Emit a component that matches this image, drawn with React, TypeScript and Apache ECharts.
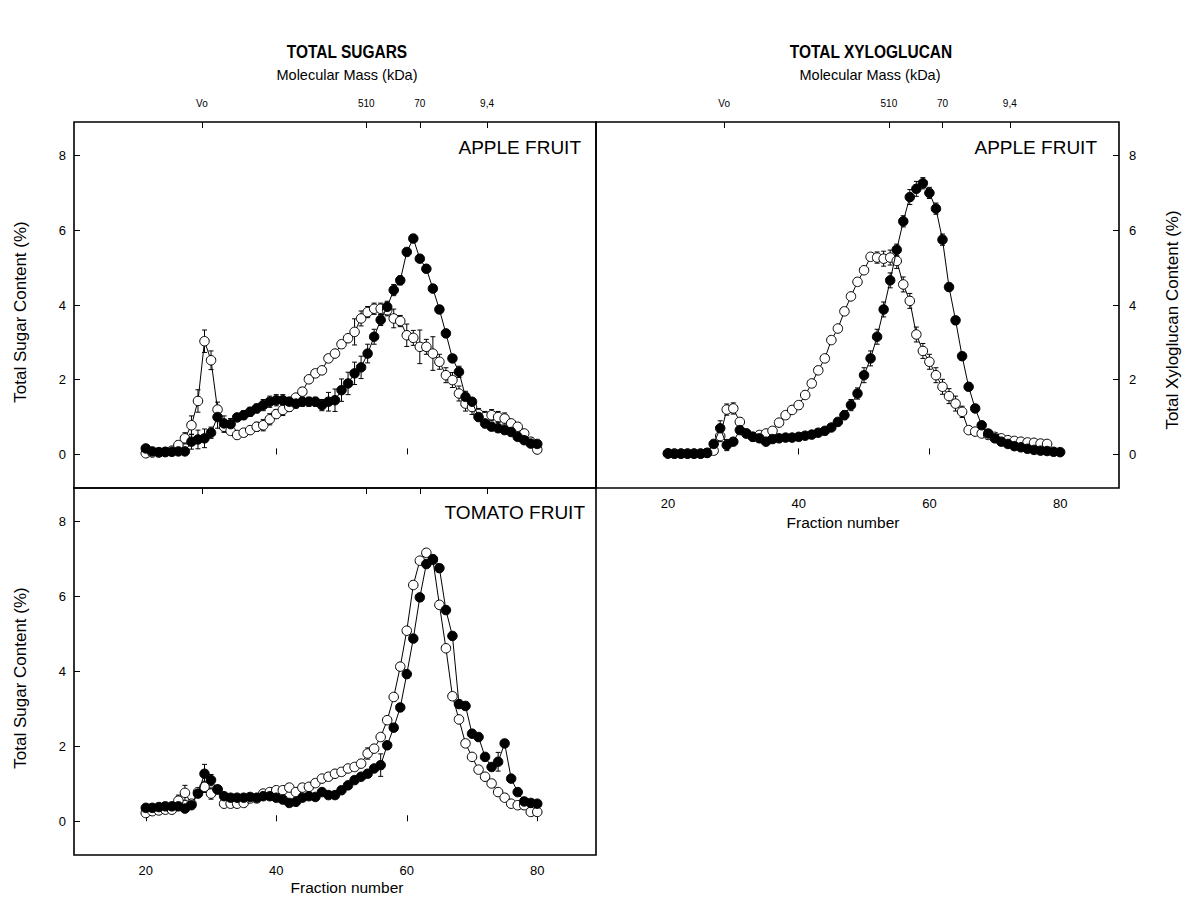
import React, { useEffect, useRef } from "react";
import * as echarts from "echarts";

// Fraction numbers 20..80
const fractions: number[] = Array.from({ length: 61 }, (_, i) => 20 + i);

// Molecular mass markers (fraction position) and labels
const massPositions = [28.6, 53.8, 62.0, 72.3];
const massLabels = ["Vo", "510", "70", "9,4"];

const xTicks = [20, 40, 60, 80];
const yTicks = [0, 2, 4, 6, 8];

// TOTAL SUGARS - APPLE FRUIT
const sugarAppleFilled = [
  0.16, 0.08, 0.06, 0.07, 0.07, 0.08, 0.08, 0.34, 0.4, 0.43,
  0.58, 1.0, 0.83, 0.81, 0.99, 1.05, 1.14, 1.23, 1.32, 1.41,
  1.45, 1.45, 1.41, 1.36, 1.41, 1.41, 1.41, 1.32, 1.41, 1.45,
  1.72, 1.9, 2.17, 2.33, 2.7, 3.15, 3.6, 3.95, 4.4, 4.66,
  5.42, 5.78, 5.24, 4.97, 4.44, 3.88, 3.24, 2.57, 2.21, 1.54,
  1.41, 1.0, 0.83, 0.74, 0.7, 0.65, 0.6, 0.47, 0.38, 0.29,
  0.28,
];
const sugarAppleFilledErr = [
  0.05, 0.03, 0.03, 0.03, 0.03, 0.03, 0.05, 0.2, 0.25, 0.25,
  0.15, 0.3, 0.2, 0.15, 0.1, 0.12, 0.12, 0.12, 0.15, 0.15,
  0.15, 0.15, 0.12, 0.12, 0.12, 0.12, 0.12, 0.15, 0.25, 0.3,
  0.3, 0.3, 0.3, 0.3, 0.25, 0.2, 0.15, 0.15, 0.15, 0.12,
  0.1, 0.1, 0.1, 0.1, 0.1, 0.1, 0.1, 0.1, 0.15, 0.15,
  0.1, 0.1, 0.12, 0.1, 0.1, 0.1, 0.1, 0.08, 0.08, 0.08,
  0.08,
];
const sugarAppleOpen = [
  0.03, 0.05, 0.05, 0.06, 0.1, 0.25, 0.43, 0.78, 1.43, 3.03,
  2.52, 1.2, 0.74, 0.63, 0.52, 0.58, 0.65, 0.74, 0.78, 0.94,
  1.08, 1.19, 1.27, 1.52, 1.68, 2.01, 2.17, 2.25, 2.57, 2.7,
  2.95, 3.11, 3.28, 3.64, 3.81, 3.9, 3.9, 3.86, 3.64, 3.57,
  3.19, 3.12, 2.88, 2.88, 2.7, 2.48, 2.12, 1.99, 1.63, 1.36,
  1.27, 1.08, 1.0, 1.05, 1.0, 0.96, 0.83, 0.74, 0.56, 0.34,
  0.13,
];
const sugarAppleOpenErr = [
  0.03, 0.03, 0.03, 0.03, 0.05, 0.1, 0.15, 0.25, 0.3, 0.3,
  0.25, 0.2, 0.15, 0.1, 0.1, 0.1, 0.1, 0.12, 0.15, 0.15,
  0.12, 0.15, 0.12, 0.1, 0.1, 0.1, 0.1, 0.1, 0.1, 0.1,
  0.1, 0.1, 0.35, 0.2, 0.15, 0.15, 0.15, 0.15, 0.25, 0.15,
  0.3, 0.2, 0.45, 0.2, 0.45, 0.2, 0.2, 0.2, 0.2, 0.2,
  0.2, 0.15, 0.15, 0.15, 0.15, 0.15, 0.1, 0.1, 0.1, 0.1,
  0.05,
];

// TOTAL XYLOGLUCAN - APPLE FRUIT
const xyloFilled = [
  0.03, 0.02, 0.02, 0.02, 0.02, 0.02, 0.04, 0.28, 0.7, 0.25,
  0.34, 0.65, 0.56, 0.47, 0.43, 0.34, 0.41, 0.43, 0.45, 0.45,
  0.47, 0.5, 0.53, 0.58, 0.63, 0.72, 0.87, 1.05, 1.32, 1.63,
  2.12, 2.57, 3.15, 3.88, 4.66, 5.48, 6.24, 6.89, 7.11, 7.26,
  7.0, 6.58, 5.75, 4.48, 3.59, 2.63, 1.81, 1.23, 0.78, 0.56,
  0.43, 0.34, 0.28, 0.22, 0.19, 0.15, 0.12, 0.1, 0.09, 0.07,
  0.06,
];
const xyloFilledErr = [
  0, 0, 0, 0, 0, 0, 0, 0.1, 0.2, 0.15,
  0.05, 0.05, 0.05, 0.05, 0.05, 0.05, 0.05, 0.05, 0.05, 0.05,
  0.05, 0.05, 0.05, 0.05, 0.05, 0.08, 0.1, 0.12, 0.15, 0.15,
  0.2, 0.2, 0.2, 0.2, 0.2, 0.15, 0.15, 0.2, 0.2, 0.15,
  0.15, 0.15, 0.15, 0.1, 0.1, 0.1, 0.1, 0.1, 0.08, 0.05,
  0.05, 0.05, 0.05, 0.05, 0.05, 0.05, 0.05, 0.05, 0.05, 0.05,
  0.05,
];
const xyloOpen = [
  0.02, 0.02, 0.02, 0.02, 0.02, 0.02, 0.04, 0.1, 0.49, 1.2,
  1.23, 0.87, 0.56, 0.47, 0.52, 0.56, 0.63, 0.85, 1.05, 1.19,
  1.32, 1.59, 1.9, 2.25, 2.57, 3.06, 3.37, 3.83, 4.23, 4.62,
  4.93, 5.29, 5.27, 5.24, 5.27, 5.18, 4.55, 4.11, 3.21, 2.77,
  2.48, 2.12, 1.81, 1.56, 1.36, 1.14, 0.65, 0.61, 0.56, 0.52,
  0.47, 0.43, 0.38, 0.36, 0.34, 0.32, 0.31, 0.29, 0.28, null,
  null,
];
const xyloOpenErr = [
  0, 0, 0, 0, 0, 0, 0, 0.05, 0.15, 0.15,
  0.15, 0.1, 0.05, 0.05, 0.05, 0.05, 0.05, 0.05, 0.05, 0.05,
  0.05, 0.05, 0.05, 0.05, 0.05, 0.05, 0.05, 0.05, 0.05, 0.05,
  0.05, 0.05, 0.15, 0.2, 0.2, 0.2, 0.2, 0.2, 0.2, 0.2,
  0.2, 0.2, 0.2, 0.2, 0.2, 0.15, 0.05, 0.05, 0.05, 0.05,
  0.05, 0.05, 0.05, 0.05, 0.05, 0.05, 0.05, 0.05, 0.05, 0,
  0,
];

// TOTAL SUGARS - TOMATO FRUIT
const sugarTomatoFilled = [
  0.36, 0.36, 0.38, 0.4, 0.4, 0.4, 0.34, 0.43, 0.74, 1.27,
  1.1, 0.85, 0.67, 0.63, 0.63, 0.63, 0.65, 0.63, 0.67, 0.67,
  0.63, 0.58, 0.49, 0.52, 0.63, 0.67, 0.65, 0.78, 0.7, 0.7,
  0.83, 0.96, 1.1, 1.19, 1.27, 1.41, 1.5, 2.03, 2.5, 3.04,
  3.93, 4.88, 5.98, 6.87, 7.0, 6.76, 5.64, 4.95, 3.13, 3.08,
  2.34, 2.25, 1.72, 1.45, 1.59, 2.08, 1.14, 0.78, 0.53, 0.49,
  0.47,
];
const sugarTomatoFilledErr = [
  0.03, 0.03, 0.03, 0.03, 0.03, 0.03, 0.03, 0.05, 0.1, 0.25,
  0.15, 0.1, 0.05, 0.05, 0.05, 0.05, 0.05, 0.05, 0.05, 0.08,
  0.05, 0.05, 0.05, 0.05, 0.05, 0.05, 0.05, 0.05, 0.05, 0.05,
  0.05, 0.05, 0.05, 0.05, 0.05, 0.08, 0.3, 0.1, 0.1, 0.1,
  0.1, 0.1, 0.1, 0.1, 0.1, 0.1, 0.1, 0.1, 0.1, 0.1,
  0.1, 0.1, 0.1, 0.1, 0.25, 0.1, 0.05, 0.05, 0.05, 0.05,
  0.05,
];
const sugarTomatoOpen = [
  0.22, 0.27, 0.29, 0.31, 0.31, 0.55, 0.76, 0.47, 0.78, 0.92,
  0.74, 0.85, 0.47, 0.47, 0.47, 0.49, 0.61, 0.61, 0.74, 0.78,
  0.83, 0.83, 0.9, 0.78, 0.9, 0.92, 1.02, 1.14, 1.19, 1.27,
  1.32, 1.41, 1.45, 1.54, 1.81, 1.94, 2.25, 2.7, 3.32, 4.13,
  5.09, 6.31, 6.96, 7.17, 6.98, 5.78, 4.62, 3.34, 2.72, 2.08,
  1.72, 1.38, 1.19, 1.01, 0.78, 0.63, 0.47, 0.43, 0.43, 0.25,
  0.25,
];
const sugarTomatoOpenErr = [
  0.03, 0.03, 0.03, 0.03, 0.03, 0.15, 0.2, 0.1, 0.1, 0.15,
  0.15, 0.1, 0.05, 0.05, 0.05, 0.05, 0.05, 0.05, 0.05, 0.05,
  0.05, 0.08, 0.08, 0.05, 0.08, 0.05, 0.05, 0.08, 0.1, 0.1,
  0.08, 0.05, 0.05, 0.1, 0.15, 0.1, 0.05, 0.05, 0.05, 0.05,
  0.05, 0.05, 0.08, 0.08, 0.08, 0.05, 0.05, 0.05, 0.05, 0.05,
  0.05, 0.05, 0.05, 0.05, 0.05, 0.05, 0.05, 0.05, 0.05, 0.05,
  0.05,
];

const FONT = "'Liberation Sans', Arial, Helvetica, sans-serif";

function toPairs(vals: (number | null)[]) {
  const out: number[][] = [];
  vals.forEach((v, i) => {
    if (v !== null && v !== undefined) out.push([fractions[i], v]);
  });
  return out;
}

function toErr(vals: (number | null)[], errs: number[]) {
  const out: number[][] = [];
  vals.forEach((v, i) => {
    if (v !== null && v !== undefined && errs[i] > 0.06) out.push([fractions[i], v, errs[i]]);
  });
  return out;
}

function lineSeries(vals: (number | null)[], filled: boolean, axisIdx: [number, number]) {
  return {
    type: "line",
    xAxisIndex: axisIdx[0],
    yAxisIndex: axisIdx[1],
    data: toPairs(vals),
    symbol: "circle",
    symbolSize: 9.5,
    showAllSymbol: true,
    lineStyle: { color: "#000", width: 1 },
    itemStyle: filled
      ? { color: "#000", borderColor: "#000", borderWidth: 1 }
      : { color: "#fff", borderColor: "#000", borderWidth: 1 },
    z: filled ? 4 : 3,
    silent: true,
  };
}

function errSeries(vals: (number | null)[], errs: number[], axisIdx: [number, number]) {
  return {
    type: "custom",
    xAxisIndex: axisIdx[0],
    yAxisIndex: axisIdx[1],
    data: toErr(vals, errs),
    z: 2,
    silent: true,
    renderItem: (_params: any, api: any) => {
      const x = api.value(0);
      const y = api.value(1);
      const e = api.value(2);
      const top = api.coord([x, y + e]);
      const bot = api.coord([x, y - e]);
      const cw = 2.5;
      const st = { stroke: "#000", lineWidth: 1 };
      return {
        type: "group",
        children: [
          { type: "line", shape: { x1: top[0], y1: top[1], x2: bot[0], y2: bot[1] }, style: st },
          { type: "line", shape: { x1: top[0] - cw, y1: top[1], x2: top[0] + cw, y2: top[1] }, style: st },
          { type: "line", shape: { x1: bot[0] - cw, y1: bot[1], x2: bot[0] + cw, y2: bot[1] }, style: st },
        ],
      };
    },
  };
}

const X_MIN = 9;
const X_MAX = 89;
const Y_MIN = -0.9;
const Y_MAX = 8.9;

function bottomX(grid: number, labels: boolean) {
  return {
    type: "value",
    gridIndex: grid,
    position: "bottom",
    min: X_MIN,
    max: X_MAX,
    splitLine: { show: false },
    axisLine: { show: false },
    axisTick: { show: true, inside: true, length: 6, customValues: xTicks, lineStyle: { color: "#000", width: 1 } },
    axisLabel: {
      show: labels,
      customValues: xTicks,
      color: "#000",
      fontSize: 13,
      fontFamily: FONT,
      margin: 9,
    },
  };
}

function topX(grid: number, labels: boolean) {
  return {
    type: "value",
    gridIndex: grid,
    position: "top",
    min: X_MIN,
    max: X_MAX,
    splitLine: { show: false },
    axisLine: { show: false },
    axisTick: { show: true, inside: true, length: 6, customValues: massPositions, lineStyle: { color: "#000", width: 1 } },
    axisLabel: {
      show: labels,
      customValues: massPositions,
      color: "#000",
      fontSize: 10,
      fontFamily: FONT,
      margin: 14,
      formatter: (v: number) => {
        let best = 0;
        massPositions.forEach((p, i) => {
          if (Math.abs(p - v) < Math.abs(massPositions[best] - v)) best = i;
        });
        return massLabels[best];
      },
    },
  };
}

function yAxis(grid: number, position: "left" | "right") {
  return {
    type: "value",
    gridIndex: grid,
    position,
    min: Y_MIN,
    max: Y_MAX,
    splitLine: { show: false },
    axisLine: { show: false },
    axisTick: { show: true, inside: true, length: 6, customValues: yTicks, lineStyle: { color: "#000", width: 1 } },
    axisLabel: {
      customValues: yTicks,
      color: "#000",
      fontSize: 13,
      fontFamily: FONT,
      margin: position === "left" ? 8 : 10,
    },
  };
}

function txt(text: string, x: number, y: number, opts: any = {}) {
  return {
    type: "text",
    x,
    y,
    rotation: opts.rotation || 0,
    scaleX: opts.scaleX || 1,
    scaleY: opts.scaleY || 1,
    style: {
      text,
      fill: "#000",
      font: `${opts.bold ? "bold " : ""}${opts.size || 14}px ${FONT}`,
      textAlign: opts.align || "center",
      textVerticalAlign: "middle",
    },
    silent: true,
  };
}

export default function App() {
  const ref = useRef<HTMLDivElement>(null);

  useEffect(() => {
    if (!ref.current) return;
    const chart = echarts.init(ref.current, undefined, { renderer: "svg" });
    const gridStyle = { show: true, borderColor: "#000", borderWidth: 1.6, backgroundColor: "transparent" };
    chart.setOption({
      animation: false,
      backgroundColor: "#fff",
      grid: [
        { left: 74, top: 122, width: 522, height: 366, ...gridStyle },
        { left: 596, top: 122, width: 523, height: 366, ...gridStyle },
        { left: 74, top: 488, width: 522, height: 367, ...gridStyle },
      ],
      xAxis: [
        bottomX(0, false),
        topX(0, true),
        bottomX(1, true),
        topX(1, true),
        bottomX(2, true),
        topX(2, false),
      ],
      yAxis: [yAxis(0, "left"), yAxis(1, "right"), yAxis(2, "left")],
      series: [
        errSeries(sugarAppleOpen, sugarAppleOpenErr, [0, 0]),
        errSeries(sugarAppleFilled, sugarAppleFilledErr, [0, 0]),
        lineSeries(sugarAppleOpen, false, [0, 0]),
        lineSeries(sugarAppleFilled, true, [0, 0]),
        errSeries(xyloOpen, xyloOpenErr, [2, 1]),
        errSeries(xyloFilled, xyloFilledErr, [2, 1]),
        lineSeries(xyloOpen, false, [2, 1]),
        lineSeries(xyloFilled, true, [2, 1]),
        errSeries(sugarTomatoOpen, sugarTomatoOpenErr, [4, 2]),
        errSeries(sugarTomatoFilled, sugarTomatoFilledErr, [4, 2]),
        lineSeries(sugarTomatoOpen, false, [4, 2]),
        lineSeries(sugarTomatoFilled, true, [4, 2]),
      ],
      graphic: [
        txt("TOTAL SUGARS", 347, 52, { bold: true, size: 18, scaleX: 0.86 }),
        txt("TOTAL XYLOGLUCAN", 871, 52, { bold: true, size: 18, scaleX: 0.86 }),
        txt("Molecular Mass (kDa)", 347, 75, { size: 14.5 }),
        txt("Molecular Mass (kDa)", 870, 75, { size: 14.5 }),
        txt("APPLE FRUIT", 581, 147, { size: 19 }),
        txt("APPLE FRUIT", 1097, 147, { size: 19 }),
        txt("TOMATO FRUIT", 585, 512, { size: 19 }),
        txt("Fraction number", 347, 887, { size: 15.5 }),
        txt("Fraction number", 843, 522, { size: 15.5 }),
        txt("Total Sugar Content (%)", 20, 312, { size: 17, rotation: Math.PI / 2 }),
        txt("Total Sugar Content (%)", 20, 678, { size: 17, rotation: Math.PI / 2 }),
        txt("Total Xyloglucan Content (%)", 1172, 320, { size: 17, rotation: Math.PI / 2 }),
      ].map((g: any) => {
        if (g.style.text === "APPLE FRUIT" || g.style.text === "TOMATO FRUIT") g.style.textAlign = "right";
        return g;
      }),
    });
    return () => chart.dispose();
  }, []);

  return (
    <div
      ref={ref}
      style={{ position: "absolute", left: 0, top: 0, width: 1184, height: 920, background: "#fff" }}
    />
  );
}
